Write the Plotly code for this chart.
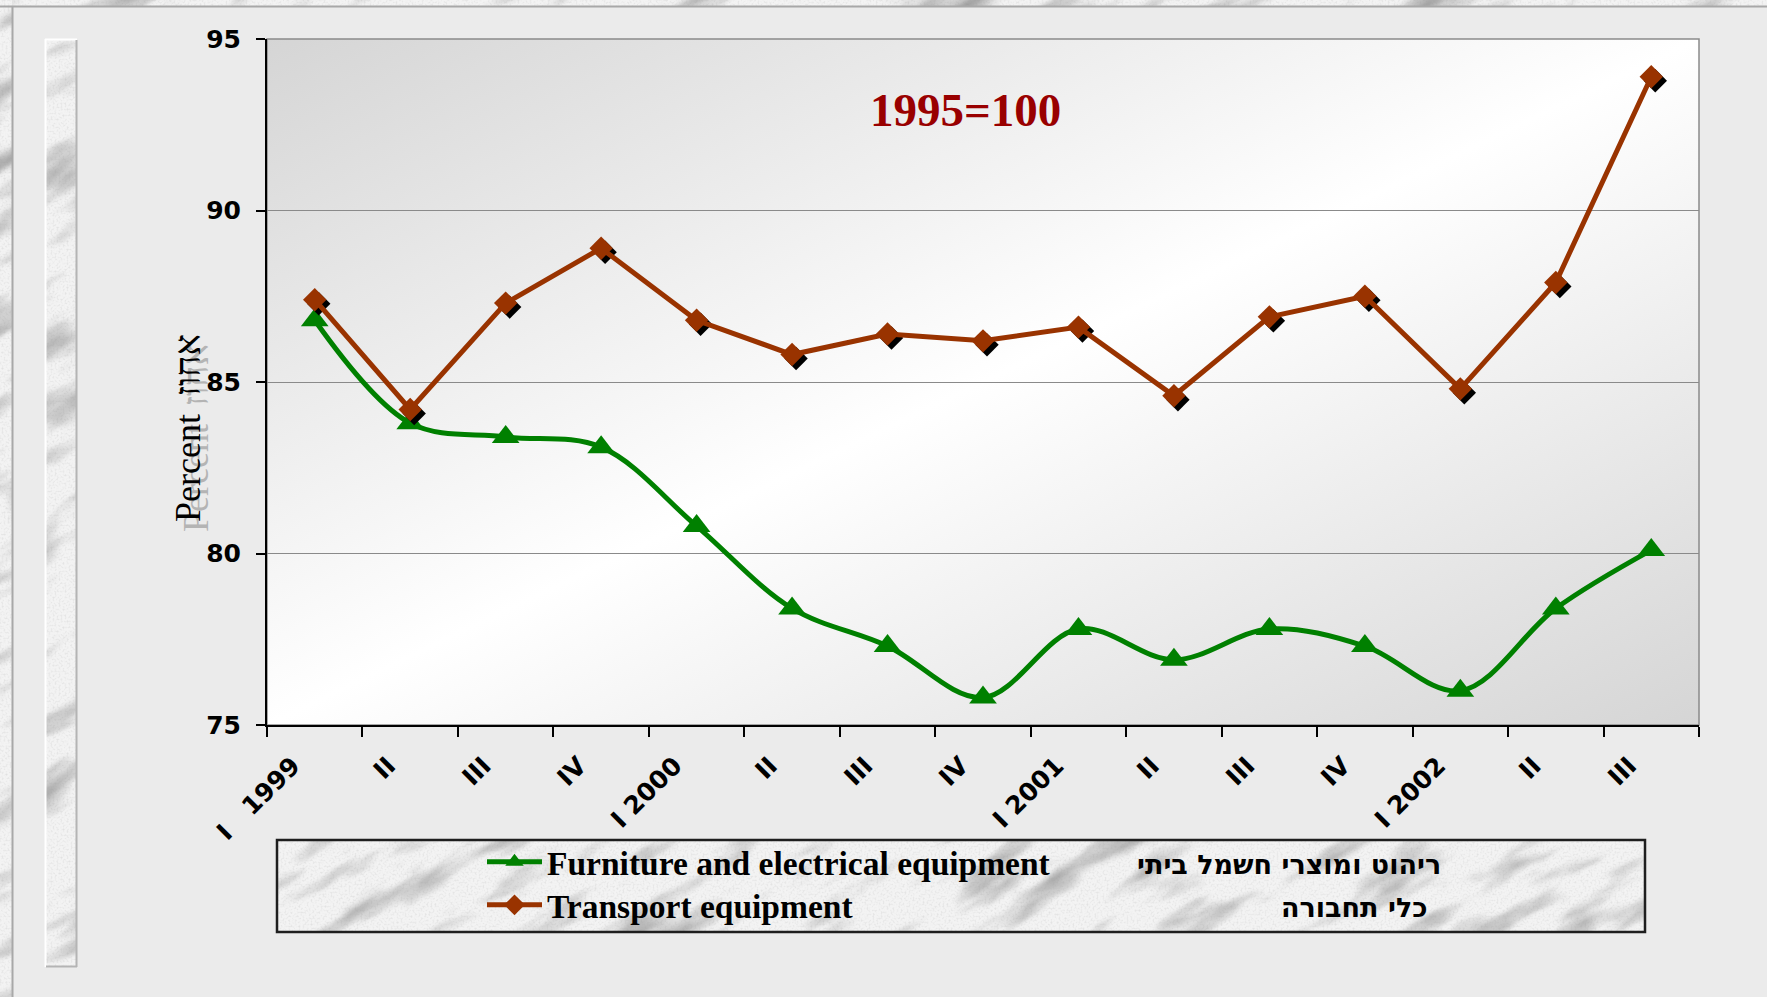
import base64
import plotly.graph_objects as go

# ---- data -------------------------------------------------------------
quarter_labels = ["I\u00a0\u00a0\u00a01999", "II", "III", "IV",
                  "I 2000", "II", "III", "IV",
                  "I 2001", "II", "III", "IV",
                  "I 2002", "II", "III"]
furniture = [86.8, 83.8, 83.4, 83.1, 80.8, 78.4, 77.3, 75.8,
             77.8, 76.9, 77.8, 77.3, 76.0, 78.4, 80.1]
transport = [87.4, 84.2, 87.3, 88.9, 86.8, 85.8, 86.4, 86.2,
             86.6, 84.6, 86.9, 87.5, 84.8, 87.9, 93.9]
series_names = ["Furniture and electrical equipment", "Transport equipment"]
series_names_he = ["ריהוט ומוצרי חשמל ביתי", "כלי תחבורה"]
y_ticks = [75, 80, 85, 90, 95]
y_range = [75, 95]
base_note = "1995=100"
axis_title = "Percent\u00a0\u00a0אחוז"

x_idx = list(range(len(quarter_labels)))

# ---- page geometry (pixels) -------------------------------------------
FIG_W, FIG_H = 1767, 997
PL, PR, PT, PB = 267, 1699, 39, 725


def fx(px):
    return (px - PL) / (PR - PL)


def fy(py):
    return (PB - py) / (PB - PT)


def svg_uri(svg):
    return "data:image/svg+xml;base64," + base64.b64encode(svg.encode("utf-8")).decode("ascii")


def marble(w, h, seed):
    """Soft grey-veined stone texture used for the page frame and the legend panel."""
    d = int((w * w + h * h) ** 0.5) + 40
    svg = (
        f'<svg xmlns="http://www.w3.org/2000/svg" width="{w}" height="{h}" viewBox="0 0 {w} {h}">'
        '<defs><filter id="f" color-interpolation-filters="sRGB">'
        f'<feTurbulence type="fractalNoise" baseFrequency="0.009 0.035" numOctaves="5" seed="{seed}"/>'
        '<feColorMatrix type="matrix" values="0 0 0 0 0.5  0 0 0 0 0.5  0 0 0 0 0.5  1.9 0 0 0 -0.98"/>'
        '<feGaussianBlur stdDeviation="1.4"/>'
        '</filter>'
        '<filter id="s" color-interpolation-filters="sRGB">'
        f'<feTurbulence type="fractalNoise" baseFrequency="0.5" numOctaves="1" seed="{seed + 1}"/>'
        '<feColorMatrix type="matrix" values="0 0 0 0 0.55  0 0 0 0 0.55  0 0 0 0 0.55  1.2 0 0 0 -0.55"/>'
        '</filter></defs>'
        f'<rect width="{w}" height="{h}" fill="#f3f3f3"/>'
        f'<g transform="translate({w / 2} {h / 2}) rotate(-30)">'
        f'<rect x="{-d / 2}" y="{-d / 2}" width="{d}" height="{d}" filter="url(#f)"/>'
        '</g>'
        f'<rect width="{w}" height="{h}" filter="url(#s)" opacity="0.35"/>'
        '</svg>'
    )
    return svg_uri(svg)


def gradient(w, h):
    svg = (
        f'<svg xmlns="http://www.w3.org/2000/svg" width="{w}" height="{h}" viewBox="0 0 {w} {h}" '
        'preserveAspectRatio="none"><defs>'
        '<linearGradient id="g" x1="0" y1="0" x2="1" y2="1">'
        '<stop offset="0" stop-color="#d5d5d5"/><stop offset="0.5" stop-color="#ffffff"/>'
        '<stop offset="1" stop-color="#d5d5d5"/></linearGradient></defs>'
        f'<rect width="{w}" height="{h}" fill="url(#g)"/></svg>'
    )
    return svg_uri(svg)


def place(x0, y0, x1, y1, src):
    return dict(source=src, xref="paper", yref="paper",
                x=fx(x0), y=fy(y0), sizex=fx(x1) - fx(x0), sizey=fy(y0) - fy(y1),
                xanchor="left", yanchor="top", sizing="stretch", layer="below")


def line(x0, y0, x1, y1, color, width):
    return dict(type="line", xref="paper", yref="paper",
                x0=fx(x0), y0=fy(y0), x1=fx(x1), y1=fy(y1),
                line=dict(color=color, width=width), layer="below")


GREEN = "#008000"
BROWN = "#993300"

fig = go.Figure()

# furniture (smoothed line)
fig.add_trace(go.Scatter(
    x=x_idx, y=furniture, name=series_names[0], legend="legend",
    mode="lines+markers",
    line=dict(color=GREEN, width=5, shape="spline", smoothing=1.0),
    marker=dict(symbol="triangle-up", size=24, color=GREEN),
    xaxis="x", yaxis="y",
))
# marker shadow for transport, on a slightly offset overlay
fig.add_trace(go.Scatter(
    x=x_idx, y=transport, mode="markers", showlegend=False, hoverinfo="skip",
    marker=dict(symbol="diamond", size=18, color="black"),
    xaxis="x2", yaxis="y2",
))
fig.add_trace(go.Scatter(
    x=x_idx, y=transport, name=series_names[1], legend="legend2",
    mode="lines+markers",
    line=dict(color=BROWN, width=5),
    marker=dict(symbol="diamond", size=18, color=BROWN),
    xaxis="x3", yaxis="y3",
))

x_rng = [-0.5, len(x_idx) - 0.5]
px_per_x = (PR - PL) / (x_rng[1] - x_rng[0])
px_per_y = (PB - PT) / (y_range[1] - y_range[0])
sh_dx, sh_dy = 4 / px_per_x, 4 / px_per_y

tick_font = dict(family="DejaVu Sans", size=25, color="black", weight="bold")

images = [
    place(PL, PT, PR, PB, gradient(PR - PL, PB - PT)),
    place(0, 0, FIG_W, 7, marble(FIG_W, 7, 3)),
    place(0, 0, 12, FIG_H, marble(12, FIG_H, 5)),
    place(45, 39, 77, 967, marble(32, 928, 7)),
    place(277, 840, 1645, 932, marble(1368, 92, 11)),
]

shapes = [
    line(0, 6.5, FIG_W, 6.5, "#a8a8a8", 2),
    line(12.5, 6, 12.5, FIG_H, "#a8a8a8", 2),
    line(45.5, 39, 45.5, 967, "#ffffff", 2),
    line(45, 39.5, 77, 39.5, "#ffffff", 2),
    line(76.5, 40, 76.5, 967, "#b4b4b4", 2),
    line(46, 966.5, 77, 966.5, "#b4b4b4", 2),
    dict(type="rect", xref="paper", yref="paper", x0=0, y0=0, x1=1, y1=1,
         line=dict(color="#8a8a8a", width=1.5), layer="below"),
    dict(type="rect", xref="paper", yref="paper",
         x0=fx(277), y0=fy(932), x1=fx(1645), y1=fy(840),
         line=dict(color="#1e1e1e", width=2.5), layer="above"),
]

he_font = dict(family="DejaVu Sans", size=27, color="black", weight="bold")
annotations = [
    dict(text=base_note, xref="paper", yref="paper", x=fx(965), y=fy(110),
         xanchor="center", yanchor="middle", showarrow=False,
         font=dict(family="Liberation Serif", size=47, color="#990000", weight="bold")),
    dict(text=axis_title, xref="paper", yref="paper", x=fx(196), y=fy(438),
         xanchor="center", yanchor="middle", textangle=-90, showarrow=False,
         font=dict(family="Liberation Serif", size=36, color="#b4b4b4")),
    dict(text=axis_title, xref="paper", yref="paper", x=fx(188), y=fy(428),
         xanchor="center", yanchor="middle", textangle=-90, showarrow=False,
         font=dict(family="Liberation Serif", size=36, color="black")),
    dict(text=series_names_he[0], xref="paper", yref="paper", x=fx(1443), y=fy(864),
         xanchor="right", yanchor="middle", showarrow=False, font=he_font),
    dict(text=series_names_he[1], xref="paper", yref="paper", x=fx(1430), y=fy(907),
         xanchor="right", yanchor="middle", showarrow=False, font=he_font),
]

legend_font = dict(family="Liberation Serif", size=33.5, color="black", weight="bold")
legend_common = dict(xanchor="left", yanchor="middle", bgcolor="rgba(0,0,0,0)",
                     borderwidth=0, font=legend_font, itemwidth=55)

fig.update_layout(
    width=FIG_W, height=FIG_H, autosize=False,
    margin=dict(l=PL, r=FIG_W - PR, t=PT, b=FIG_H - PB, pad=0),
    paper_bgcolor="#ebebeb", plot_bgcolor="rgba(0,0,0,0)",
    showlegend=True,
    legend=dict(x=fx(482), y=fy(862), **legend_common),
    legend2=dict(x=fx(482), y=fy(905), **legend_common),
    xaxis=dict(range=x_rng, tickmode="array", tickvals=x_idx, ticktext=quarter_labels,
               ticks="", tickangle=-45, tickfont=tick_font, ticklabelstandoff=14,
               ticklabelshift=-22,
               showline=True, linecolor="black", linewidth=2, showgrid=False, zeroline=False,
               minor=dict(ticks="outside", ticklen=10, tickwidth=1.5, tickcolor="black",
                          tick0=-0.5, dtick=1, showgrid=False)),
    yaxis=dict(range=y_range, tickmode="array", tickvals=y_ticks,
               ticks="outside", ticklen=9, tickwidth=1.5, tickcolor="black",
               tickfont=tick_font, ticklabelstandoff=10,
               showline=True, linecolor="black", linewidth=2,
               showgrid=True, gridcolor="#8a8a8a", gridwidth=1, zeroline=False),
    xaxis2=dict(overlaying="x", anchor="y2", visible=False,
                range=[x_rng[0] - sh_dx, x_rng[1] - sh_dx]),
    yaxis2=dict(overlaying="y", anchor="x2", visible=False,
                range=[y_range[0] + sh_dy, y_range[1] + sh_dy]),
    xaxis3=dict(overlaying="x", anchor="y3", visible=False, range=x_rng),
    yaxis3=dict(overlaying="y", anchor="x3", visible=False, range=y_range),
    images=images, shapes=shapes, annotations=annotations,
)

fig.write_html("out.html")
